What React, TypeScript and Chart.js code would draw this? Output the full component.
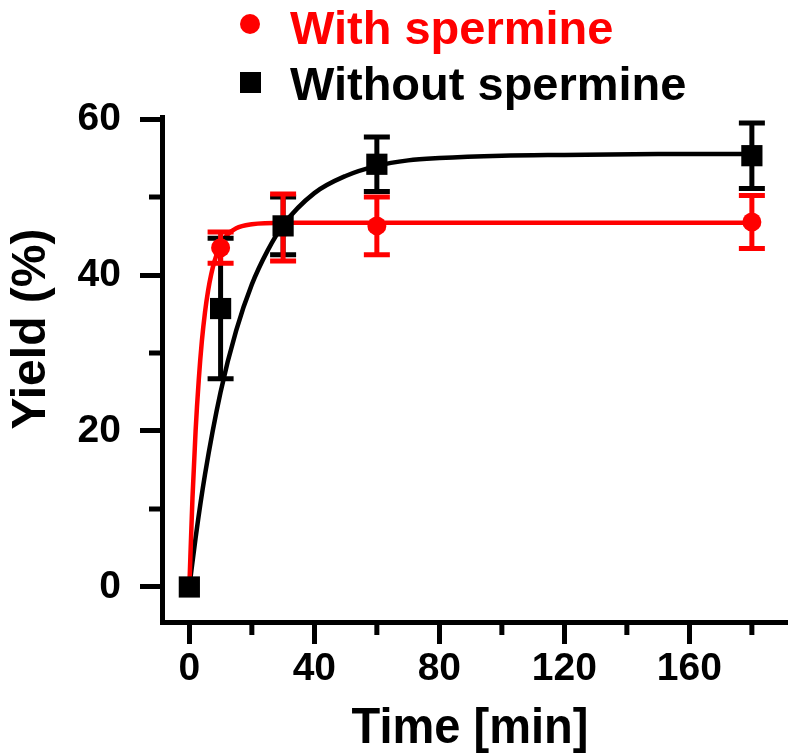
import React, { useEffect, useRef } from "react";
import { Chart, registerables } from "chart.js";

Chart.register(...registerables);

// Measured data (time in min, yield in %)
const timePoints = [0, 10, 30, 60, 180];
const withSpermine = [0, 43.5, 46.1, 46.3, 46.8];
const withSpermineSD = [0, 2.0, 4.3, 3.7, 3.4];
const withoutSpermine = [0, 35.7, 46.3, 54.2, 55.3];
const withoutSpermineSD = [0, 9.0, 3.7, 3.5, 4.2];

// Fitted curves
const fitTimeWith = [0, 1, 2, 3, 4, 5, 6, 7, 8, 10, 12, 15, 20, 30, 60, 120, 180];
const fitWith = [0, 11.4, 20.0, 26.5, 31.5, 35.2, 38.0, 40.1, 41.7, 43.9, 45.1, 46.0, 46.5, 46.7, 46.7, 46.7, 46.7];
const fitTimeWithout = [0, 2, 5, 10, 15, 20, 25, 30, 40, 50, 60, 70, 80, 100, 120, 150, 180];
const fitWithout = [0, 6.3, 14.4, 25.0, 32.9, 38.8, 43.1, 46.4, 50.5, 52.7, 54.0, 54.7, 55.0, 55.3, 55.4, 55.5, 55.5];

const xTicks = [0, 40, 80, 120, 160];
const xMinorTicks = [20, 60, 100, 140, 180];
const yTicks = [0, 20, 40, 60];
const yMinorTicks = [10, 30, 50];

const legendLabels = ["With spermine", "Without spermine"];
const xTitle = "Time [min]";
const yTitle = "Yield (%)";

const RED = "#ff0000";
const BLACK = "#000000";
const FONT = "'Liberation Sans', Arial, Helvetica, sans-serif";

const pts = (xs: number[], ys: number[]) => xs.map((x, i) => ({ x, y: ys[i] }));

export default function App() {
  const ref = useRef<HTMLCanvasElement | null>(null);

  useEffect(() => {
    const canvas = ref.current;
    if (!canvas) return;

    const drawErrors = (chart: any, vals: number[], sds: number[], color: string) => {
      const ctx = chart.ctx;
      const xs = chart.scales.x;
      const ys = chart.scales.y;
      ctx.save();
      ctx.strokeStyle = color;
      ctx.lineWidth = 5;
      ctx.lineCap = "butt";
      timePoints.forEach((t, i) => {
        if (!sds[i]) return;
        const px = xs.getPixelForValue(t);
        const top = ys.getPixelForValue(vals[i] + sds[i]);
        const bot = ys.getPixelForValue(vals[i] - sds[i]);
        ctx.beginPath();
        ctx.moveTo(px, top);
        ctx.lineTo(px, bot);
        ctx.moveTo(px - 13, top);
        ctx.lineTo(px + 13, top);
        ctx.moveTo(px - 13, bot);
        ctx.lineTo(px + 13, bot);
        ctx.stroke();
      });
      ctx.restore();
    };

    const errorPlugin = {
      id: "errorBars",
      beforeDatasetDraw(chart: any, args: any) {
        if (args.index === 3) {
          drawErrors(chart, withoutSpermine, withoutSpermineSD, BLACK);
          drawErrors(chart, withSpermine, withSpermineSD, RED);
        }
      },
    };

    const decorPlugin = {
      id: "decor",
      afterDraw(chart: any) {
        const ctx = chart.ctx;
        const xs = chart.scales.x;
        const ys = chart.scales.y;
        const ca = chart.chartArea;
        ctx.save();
        // minor ticks
        ctx.strokeStyle = BLACK;
        ctx.lineWidth = 5;
        ctx.beginPath();
        xMinorTicks.forEach((v) => {
          const px = xs.getPixelForValue(v);
          ctx.moveTo(px, ca.bottom);
          ctx.lineTo(px, ca.bottom + 13);
        });
        yMinorTicks.forEach((v) => {
          const py = ys.getPixelForValue(v);
          ctx.moveTo(ca.left - 13, py);
          ctx.lineTo(ca.left, py);
        });
        ctx.stroke();

        // legend
        ctx.fillStyle = RED;
        ctx.beginPath();
        ctx.arc(250, 24, 10, 0, Math.PI * 2);
        ctx.fill();
        ctx.font = `bold 47px ${FONT}`;
        ctx.textAlign = "left";
        ctx.textBaseline = "alphabetic";
        ctx.fillText(legendLabels[0], 290, 44);
        ctx.fillStyle = BLACK;
        ctx.fillRect(240, 72, 21, 21);
        ctx.fillText(legendLabels[1], 290, 100);

        // x title
        ctx.save();
        ctx.translate(470, 743);
        ctx.scale(0.94, 1);
        ctx.font = `bold 50px ${FONT}`;
        ctx.textAlign = "center";
        ctx.fillStyle = BLACK;
        ctx.fillText(xTitle, 0, 0);
        ctx.restore();

        // y title
        ctx.save();
        ctx.translate(45, 329);
        ctx.rotate(-Math.PI / 2);
        ctx.font = `bold 48px ${FONT}`;
        ctx.textAlign = "center";
        ctx.fillStyle = BLACK;
        ctx.fillText(yTitle, 0, 0);
        ctx.restore();

        ctx.restore();
      },
    };

    const tickFont = { family: FONT, size: 39, weight: "bold" as const };
    const gridOpts = {
      display: true,
      drawOnChartArea: false,
      drawTicks: true,
      tickLength: 22,
      tickWidth: 5,
      tickColor: BLACK,
      lineWidth: 5,
      color: BLACK,
    };

    const chart = new Chart(canvas, {
      type: "scatter",
      data: {
        datasets: [
          {
            label: "Without spermine fit",
            data: pts(fitTimeWithout, fitWithout),
            showLine: true,
            borderColor: BLACK,
            borderWidth: 4.5,
            pointRadius: 0,
            cubicInterpolationMode: "monotone",
            order: 4,
          },
          {
            label: "With spermine fit",
            data: pts(fitTimeWith, fitWith),
            showLine: true,
            borderColor: RED,
            borderWidth: 4.5,
            pointRadius: 0,
            cubicInterpolationMode: "monotone",
            order: 3,
          },
          {
            label: legendLabels[1],
            data: pts(timePoints, withoutSpermine),
            showLine: false,
            pointStyle: "rect",
            pointRadius: 15,
            backgroundColor: BLACK,
            borderColor: BLACK,
            borderWidth: 0,
            order: 1,
          },
          {
            label: legendLabels[0],
            data: pts(timePoints, withSpermine),
            showLine: false,
            pointStyle: "circle",
            pointRadius: 9.5,
            backgroundColor: RED,
            borderColor: RED,
            borderWidth: 0,
            order: 2,
          },
        ],
      },
      options: {
        animation: false,
        responsive: false,
        devicePixelRatio: 1,
        layout: { padding: { top: 117, left: 0, right: 0, bottom: 0 } },
        plugins: {
          legend: { display: false },
          tooltip: { enabled: false },
        },
        scales: {
          x: {
            type: "linear",
            min: -8.75,
            max: 190.6,
            afterBuildTicks: (s: any) => {
              s.ticks = xTicks.map((v) => ({ value: v }));
            },
            afterFit: (s: any) => {
              s.height = 134;
            },
            ticks: {
              font: tickFont,
              color: BLACK,
              padding: 2,
              autoSkip: false,
              maxRotation: 0,
            },
            grid: gridOpts,
            border: { display: true, width: 5, color: BLACK },
          },
          y: {
            type: "linear",
            min: -4.49,
            max: 60.26,
            afterBuildTicks: (s: any) => {
              s.ticks = yTicks.map((v) => ({ value: v }));
            },
            afterFit: (s: any) => {
              s.width = 162;
            },
            ticks: {
              font: tickFont,
              color: BLACK,
              padding: 19,
              autoSkip: false,
            },
            grid: gridOpts,
            border: { display: true, width: 5, color: BLACK },
          },
        },
      },
      plugins: [errorPlugin, decorPlugin],
    } as any);

    return () => chart.destroy();
  }, []);

  return (
    <div style={{ position: "absolute", left: 0, top: 0, width: 800, height: 756, background: "#fff" }}>
      <canvas ref={ref} width={800} height={756} style={{ display: "block" }} />
    </div>
  );
}
